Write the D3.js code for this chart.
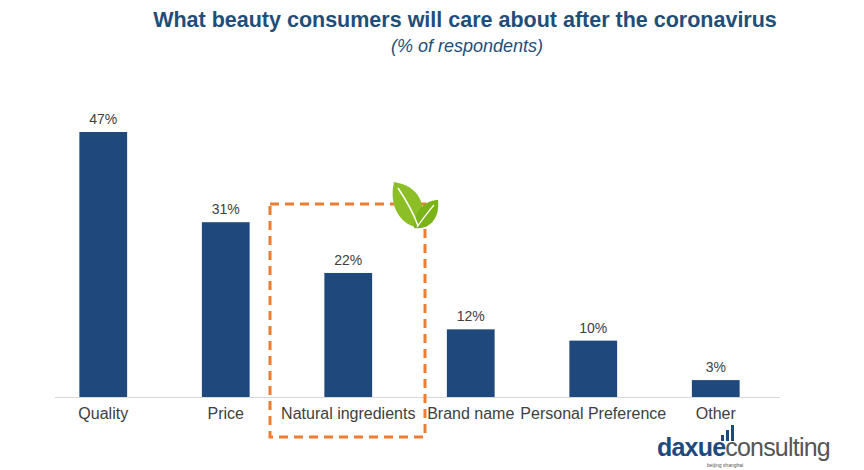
<!DOCTYPE html><html><head><meta charset="utf-8"><script src="https://d3js.org/d3.v7.min.js"></script>
<style>body{margin:0;background:#fff}</style></head><body><svg id="c" width="864" height="470"></svg>
<script>
const categories=["Quality","Price","Natural ingredients","Brand name","Personal Preference","Other"];
const values=[47,31,22,12,10,3];
const labels=["47%","31%","22%","12%","10%","3%"];
const svg=d3.select("#c");
const x=d3.scaleBand().domain(categories).range([42,777]).paddingInner(0.61).paddingOuter(0.305);
const y=d3.scaleLinear().domain([0,47]).range([397,132]);
svg.append("text").attr("x",465).attr("y",27).attr("text-anchor","middle").attr("font-family","Liberation Sans, Arial").attr("font-weight","bold").attr("font-size",21.5).attr("fill","#1f4e79").text("What beauty consumers will care about after the coronavirus");
svg.append("text").attr("x",467).attr("y",52).attr("text-anchor","middle").attr("font-family","Liberation Sans, Arial").attr("font-style","italic").attr("font-size",18).attr("fill","#1f4e79").text("(% of respondents)");
svg.selectAll("rect.b").data(values).join("rect").attr("class","b").attr("x",(d,i)=>x(categories[i])).attr("width",x.bandwidth()).attr("y",d=>y(d)).attr("height",d=>y(0)-y(d)).attr("fill","#1f497d");
svg.selectAll("text.v").data(values).join("text").attr("class","v").attr("x",(d,i)=>x(categories[i])+x.bandwidth()/2).attr("y",d=>y(d)-8).attr("text-anchor","middle").attr("font-family","Liberation Sans, Arial").attr("font-size",14).attr("fill","#404040").text((d,i)=>labels[i]);
svg.append("line").attr("x1",55).attr("x2",780).attr("y1",397.5).attr("y2",397.5).attr("stroke","#d9d9d9");
const ax=svg.append("g").attr("transform","translate(0,397)").call(d3.axisBottom(x).tickSize(0).tickPadding(11));
ax.select(".domain").remove();
ax.selectAll("text").attr("font-family","Liberation Sans, Arial").attr("font-size",16).attr("fill","#404040");
svg.append("rect").attr("x",270).attr("y",204).attr("width",155).attr("height",233).attr("fill","none").attr("stroke","#ed7d31").attr("stroke-width",3).attr("stroke-dasharray","9,6");
const g=svg.append("g").attr("transform","translate(388,178)");
g.append("path").attr("d","M6,4 C30,8 40,25 32,50 C14,48 0,30 6,4Z").attr("fill","#8cbf26");
g.append("path").attr("d","M50,22 C40,22 26,30 26,50 C42,52 52,40 50,22Z").attr("fill","#7ab317");
g.append("path").attr("d","M10,10 C18,22 26,36 30,48").attr("stroke","#fff").attr("stroke-width",1.5).attr("fill","none");
g.append("path").attr("d","M46,27 C40,34 34,42 29,49").attr("stroke","#fff").attr("stroke-width",1.2).attr("fill","none");
const lg=svg.append("g");
[[721,435,3,6],[726,430,3,11],[731,425,3,16]].forEach(b=>lg.append("rect").attr("x",b[0]).attr("y",b[1]).attr("width",b[2]).attr("height",b[3]).attr("fill","#1f497d"));
const t=lg.append("text").attr("x",657).attr("y",456).attr("font-family","Liberation Sans, Arial").attr("font-weight","bold").attr("font-size",25).attr("letter-spacing",-0.8);
t.append("tspan").attr("fill","#1f497d").text("daxue");
t.append("tspan").attr("fill","#555").attr("font-weight","normal").text("consulting");
lg.append("text").attr("x",707).attr("y",467).attr("font-family","Liberation Sans, Arial").attr("font-size",5).attr("fill","#555").text("beijing shanghai");
</script></body></html>
